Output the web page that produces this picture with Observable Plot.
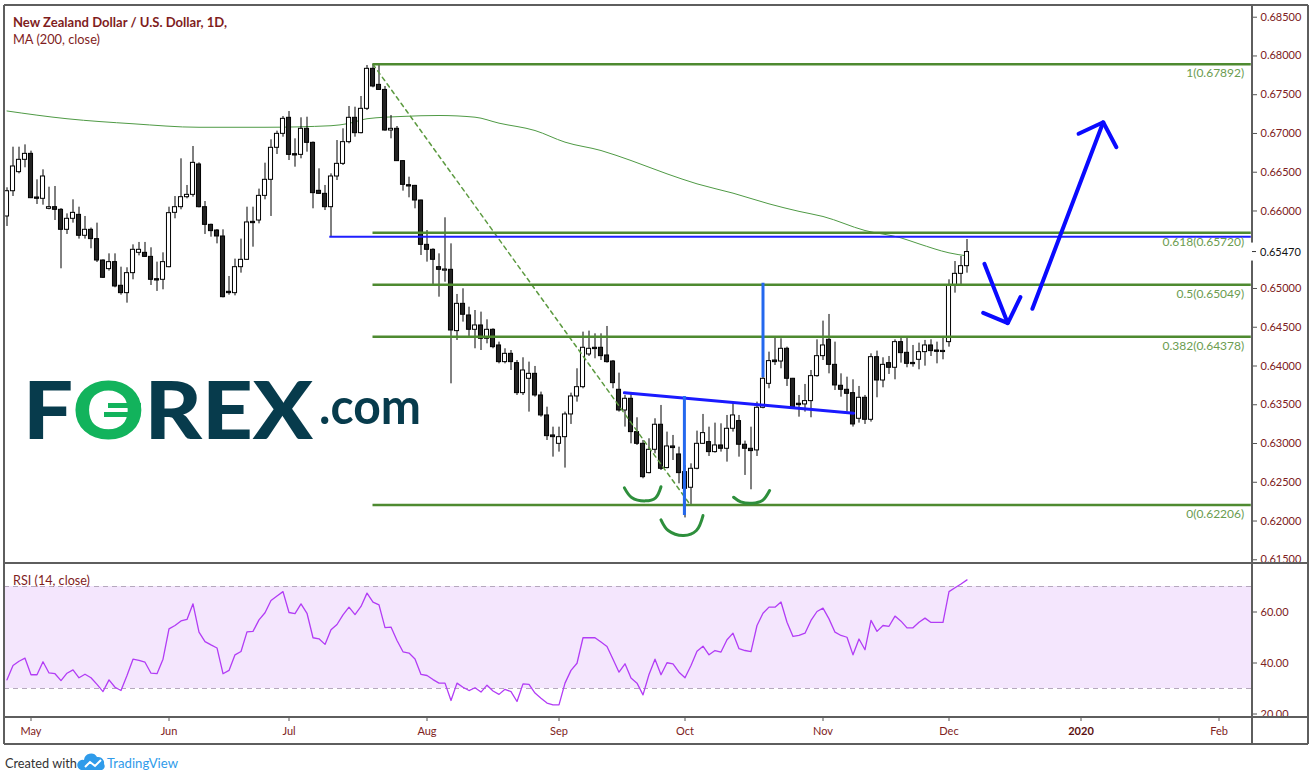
<!DOCTYPE html>
<html><head><meta charset="utf-8">
<script src="https://cdn.jsdelivr.net/npm/d3@7"></script>
<script src="https://cdn.jsdelivr.net/npm/@observablehq/plot@0.6"></script>
<style>
html,body{margin:0;padding:0;background:#fff;}
#wrap{position:relative;width:1315px;height:781px;overflow:hidden;font-family:Lato,"DejaVu Sans",sans-serif;}
#wrap svg{position:absolute;left:0;margin:0;overflow:visible;}
</style></head>
<body><div id="wrap"></div>
<script>
// ---------- DATA (bar index 0 = first weekday bar, 2019-04-25) ----------
const firstBarDate = [2019, 3, 25];
const lastAxisDate = [2020, 1, 14];
const opens = [0.65929,0.66255,0.66501,0.66660,0.66737,0.66174,0.66157,0.66028,0.66049,0.66015,
0.65757,0.65899,0.65950,0.65680,0.65757,0.65637,0.65361,0.65250,0.65340,0.65035,
0.64940,0.65198,0.65460,0.65460,0.65408,0.65120,0.65112,0.65275,0.65976,0.66049,
0.66178,0.66208,0.66600,0.66049,0.65821,0.65748,0.65671,0.64957,0.64940,0.65275,
0.65370,0.65860,0.65877,0.66195,0.66402,0.66815,0.66995,0.67202,0.66733,0.66724,
0.67060,0.66879,0.66260,0.66221,0.66049,0.66445,0.66608,0.66888,0.67202,0.67004,
0.67318,0.67834,0.67627,0.67562,0.67038,0.67060,0.66643,0.66333,0.66324,0.66135,
0.65563,0.65499,0.65275,0.65230,0.65241,0.64450,0.64802,0.64652,0.64467,0.64523,
0.64351,0.64467,0.64265,0.64050,0.64157,0.64037,0.63650,0.63835,0.63899,0.63620,
0.63362,0.63104,0.62996,0.63082,0.63375,0.63607,0.63727,0.64149,0.64235,0.64235,
0.64136,0.64058,0.63693,0.63426,0.63577,0.63147,0.62996,0.62618,0.62919,0.63242,
0.62683,0.62962,0.62859,0.62631,0.62429,0.62674,0.62996,0.63018,0.62889,0.62975,
0.62932,0.63190,0.63289,0.62984,0.62932,0.62911,0.63461,0.63770,0.64071,0.64058,
0.64222,0.63835,0.63513,0.63504,0.63547,0.63869,0.64127,0.64338,0.64015,0.63745,
0.63693,0.63650,0.63319,0.63590,0.63306,0.64114,0.63813,0.64037,0.63977,0.64308,
0.64170,0.64040,0.64080,0.64179,0.64265,0.64200,0.64180,0.64308,0.65039,0.65189,
0.65288];
const highs = [0.66299,0.66823,0.66823,0.66853,0.66772,0.66402,0.66531,0.66307,0.66316,0.66030,
0.65963,0.66144,0.66049,0.65929,0.65780,0.65843,0.65370,0.65447,0.65447,0.65275,
0.65267,0.65563,0.65594,0.65594,0.65525,0.65340,0.65460,0.66049,0.66187,0.66673,
0.66329,0.66832,0.66621,0.66122,0.65830,0.65760,0.65757,0.65155,0.65379,0.65637,
0.66049,0.66049,0.66282,0.66617,0.66918,0.67030,0.67219,0.67283,0.66931,0.67202,
0.67210,0.66890,0.66544,0.66329,0.66479,0.66909,0.67060,0.67348,0.67339,0.67477,
0.67877,0.67892,0.67880,0.67606,0.67232,0.67090,0.66651,0.66436,0.66330,0.66140,
0.65748,0.65512,0.65447,0.65912,0.65576,0.64923,0.64996,0.64759,0.64716,0.64695,
0.64596,0.64480,0.64308,0.64222,0.64200,0.64071,0.64106,0.64050,0.63994,0.63663,
0.63469,0.63211,0.63211,0.63405,0.63650,0.63964,0.64437,0.64450,0.64415,0.64415,
0.64510,0.64071,0.63908,0.63620,0.63633,0.63332,0.63039,0.63061,0.63319,0.63491,
0.63147,0.63104,0.62953,0.62717,0.62738,0.63160,0.63375,0.63211,0.63263,0.63254,
0.63362,0.63534,0.63362,0.63031,0.63211,0.63534,0.63878,0.64179,0.64364,0.64351,
0.64243,0.63840,0.63620,0.63762,0.63942,0.64338,0.64579,0.64665,0.64308,0.63899,
0.63856,0.63822,0.63736,0.63620,0.64157,0.64192,0.64106,0.64123,0.64338,0.64364,
0.64381,0.64265,0.64295,0.64330,0.64338,0.64308,0.64381,0.65112,0.65348,0.65413,
0.65632];
const lows = [0.65800,0.66187,0.66479,0.66557,0.66160,0.66084,0.66075,0.66015,0.65877,0.65254,
0.65697,0.65843,0.65637,0.65637,0.65512,0.65335,0.65130,0.65224,0.65009,0.64914,
0.64811,0.65112,0.65421,0.65400,0.65039,0.64962,0.64983,0.65267,0.65899,0.66015,
0.66157,0.66178,0.66040,0.65697,0.65662,0.65576,0.64879,0.64914,0.64905,0.65198,
0.65361,0.65533,0.65834,0.66144,0.65929,0.66729,0.66952,0.66651,0.66565,0.66673,
0.66759,0.66028,0.66213,0.66006,0.65668,0.66393,0.66587,0.66866,0.66952,0.66995,
0.67296,0.67589,0.67555,0.67030,0.66931,0.66640,0.66256,0.66170,0.66028,0.65426,
0.65340,0.65051,0.64888,0.65081,0.63770,0.64329,0.64566,0.64372,0.64222,0.64200,
0.64286,0.64222,0.64028,0.64028,0.63942,0.63620,0.63620,0.63405,0.63598,0.63340,
0.63039,0.62824,0.62889,0.62683,0.63246,0.63534,0.63706,0.64123,0.64093,0.64071,
0.64037,0.63706,0.63405,0.63212,0.62996,0.62975,0.62545,0.62609,0.62867,0.62652,
0.62674,0.62781,0.62480,0.62040,0.62188,0.62661,0.62988,0.62833,0.62876,0.62889,
0.62760,0.63147,0.62824,0.62588,0.62403,0.62833,0.63448,0.63706,0.64007,0.63964,
0.63736,0.63448,0.63340,0.63405,0.63332,0.63856,0.64071,0.63899,0.63684,0.63598,
0.63405,0.63212,0.63263,0.63246,0.63276,0.63590,0.63719,0.63891,0.63822,0.64037,
0.63977,0.63985,0.63951,0.63998,0.64123,0.64028,0.64080,0.64243,0.64940,0.65030,
0.65198];
const closes = [0.66255,0.66574,0.66660,0.66737,0.66165,0.66157,0.66445,0.66049,0.66015,0.65757,
0.65899,0.65976,0.65680,0.65757,0.65637,0.65361,0.65138,0.65340,0.65026,0.64940,
0.65198,0.65499,0.65499,0.65408,0.65112,0.65103,0.65340,0.65972,0.66049,0.66178,
0.66208,0.66621,0.66049,0.65821,0.65740,0.65671,0.64888,0.64940,0.65275,0.65370,
0.65852,0.65843,0.66195,0.66402,0.66815,0.66995,0.67189,0.66724,0.66716,0.67060,
0.66879,0.66230,0.66221,0.66049,0.66445,0.66608,0.66888,0.67202,0.67004,0.67318,
0.67834,0.67606,0.67562,0.67038,0.67060,0.66643,0.66337,0.66316,0.66135,0.65563,
0.65499,0.65370,0.65241,0.65245,0.64458,0.64802,0.64661,0.64467,0.64523,0.64351,
0.64467,0.64243,0.64050,0.64157,0.64050,0.63650,0.63942,0.63899,0.63620,0.63362,
0.63095,0.63082,0.63082,0.63375,0.63607,0.63727,0.64235,0.64222,0.64218,0.64127,
0.64050,0.63779,0.63426,0.63577,0.63147,0.62996,0.62566,0.62919,0.63242,0.62674,
0.62962,0.62941,0.62618,0.62416,0.62674,0.62996,0.63134,0.62889,0.62975,0.62932,
0.63190,0.63362,0.62984,0.62932,0.62902,0.63461,0.63835,0.64063,0.64050,0.64222,
0.63835,0.63469,0.63495,0.63547,0.63869,0.64127,0.64265,0.64015,0.63749,0.63693,
0.63641,0.63246,0.63590,0.63306,0.64114,0.63813,0.64015,0.63977,0.64308,0.64166,
0.64028,0.64024,0.64179,0.64265,0.64192,0.64183,0.64195,0.65039,0.65189,0.65288,
0.65470];
const rsi14 = [33.4,39.0,40.7,41.9,35.4,35.4,40.5,36.1,35.8,33.1,
36.0,37.3,34.2,35.6,34.2,31.6,28.8,33.4,30.5,29.2,
35.1,41.5,41.0,40.3,36.0,35.8,41.5,53.4,54.7,56.5,
57.1,63.2,52.1,48.4,47.1,45.9,35.8,37.1,43.2,44.5,
52.2,52.4,56.9,59.7,64.5,66.3,68.0,59.8,59.4,63.2,
59.5,49.9,49.5,47.3,53.0,55.1,58.9,61.9,59.0,62.2,
67.4,63.9,62.8,53.9,54.1,48.8,44.4,43.9,41.6,35.5,
35.1,33.5,32.1,32.1,25.3,32.1,30.5,29.2,30.3,28.6,
31.3,29.0,27.7,29.7,28.8,24.9,31.8,31.6,28.2,26.2,
24.3,23.6,23.6,32.1,37.1,39.9,49.9,49.9,49.9,48.2,
46.5,41.5,36.4,39.7,34.1,32.1,27.5,35.5,41.5,35.4,
40.1,39.7,36.4,34.2,39.0,44.6,46.6,43.2,44.9,44.3,
49.1,51.7,45.6,44.9,44.5,54.7,59.5,61.9,61.9,63.9,
56.0,50.4,50.8,51.7,56.7,60.2,61.5,57.3,52.1,50.8,
50.1,43.2,49.4,45.2,56.7,52.4,54.7,54.4,58.4,56.4,
53.8,53.8,56.0,57.6,55.9,55.9,55.9,68.0,69.5,71.0,
72.6];
// 200-day MA read at selected bars
const ma200Idx = [0,10,21,32,43,54,57,60,66,72,78,82,88,93,99,104,110,115,121,127,132,136,143,149,152,157,160];
const ma200Val = [0.6729,0.6719,0.67125,0.6708,0.6708,0.6710,0.6713,0.6719,0.6722,0.67232,0.6721,0.67133,0.67038,0.66888,0.6678,0.66651,0.66479,0.6635,0.6623,0.66092,0.65995,0.65929,0.65748,0.65653,0.65576,0.6546,0.6542];
const priceTicks = [0.615,0.620,0.625,0.630,0.635,0.640,0.645,0.650,0.660,0.665,0.670,0.675,0.680,0.685];
const rsiTicks = [20,40,60];
const rsiBand = [30,70];
const fibRatios = ["1","0.618","0.5","0.382","0"];
const fibValues = [0.67892,0.65720,0.65049,0.64378,0.62206];
const fibStartIdx = 61;
// drawings (bar index, price)
const resistanceLevel = 0.65668, resistanceStartIdx = 53.8;
const diagIdx = [61, 113.9], diagPrice = [0.67892, 0.62206];
const neckIdx = [102.9, 141.1], neckPrice = [0.63654, 0.63391];
const vlineIdx = [112.9, 126], vlineFrom = [0.63606, 0.65068], vlineTo = [0.62071, 0.6385];
const arcGroup = ["L","L","L","L","L","H","H","H","H","H","R","R","R","R","R"];
const arcIdx = [102.9,104.1,106.4,108.1,109.0, 109.0,110.2,112.8,114.9,116.0, 121.1,122.3,124.2,125.9,127.1];
const arcPrice = [0.62428,0.62305,0.62260,0.62300,0.62442, 0.62016,0.61878,0.61814,0.61878,0.62071, 0.62307,0.62248,0.62230,0.62265,0.62394];
const arrowGroup = ["ds","ds","dh","dh","dh","us","us","uh","uh","uh"];
const arrowIdx = [162.9,166.8, 162.7,166.8,168.9, 170.9,182.7, 178.6,182.7,184.9];
const arrowPrice = [0.65318,0.64552, 0.64686,0.64552,0.64888, 0.64738,0.67145, 0.66996,0.67145,0.66823];

// ---------- calendar (weekday bars) ----------
const dates = [];
for (let d = new Date(...firstBarDate); d <= new Date(...lastAxisDate); d.setDate(d.getDate()+1)) {
  const wd = d.getDay(); if (wd > 0 && wd < 6) dates.push(new Date(d));
}
const monthTicks = [];
dates.forEach((d,i) => { if (i > 0 && d.getMonth() !== dates[i-1].getMonth()) monthTicks.push(i); });
const fmtMon = d3.timeFormat("%b");
const tickLabel = i => dates[i].getMonth() === 0 ? String(dates[i].getFullYear()) : fmtMon(dates[i]);

const candles = opens.map((o,i) => ({i, o, h: highs[i], l: lows[i], c: closes[i]}));
const upC = candles.filter(d => d.c >= d.o), dnC = candles.filter(d => d.c < d.o);
const X_DOMAIN = [-0.4167, 207.583];
const AXIS_COLOR = "#7d2121";
const FONT = "Lato, 'DejaVu Sans', sans-serif";
const bw = 0.34;

const main = Plot.plot({
  width: 1315, height: 563,
  marginLeft: 4, marginRight: 63, marginTop: 5, marginBottom: 0,
  x: {type: "linear", domain: X_DOMAIN, axis: null},
  y: {domain: [0.61452, 0.68651], axis: null},
  style: {fontFamily: FONT, background: "#fff", overflow: "visible"},
  marks: [
    Plot.axisY({anchor: "right", ticks: priceTicks, tickFormat: d => d.toFixed(5), tickSize: 4, tickPadding: 4, fontSize: 11, stroke: "#555", fill: AXIS_COLOR}),
    Plot.line(ma200Idx.map((x,k) => ({x, y: ma200Val[k]})), {x: "x", y: "y", stroke: "#4f9a45", strokeWidth: 1, curve: "monotone-x"}),
    Plot.ruleX(candles, {x: "i", y1: "l", y2: "h", stroke: "#000", strokeWidth: 1}),
    Plot.rect(upC, {x1: d => d.i - bw, x2: d => d.i + bw, y1: "o", y2: "c", fill: "#fff", stroke: "#000", strokeWidth: 1}),
    Plot.rect(dnC, {x1: d => d.i - bw, x2: d => d.i + bw, y1: "o", y2: "c", fill: "#222", stroke: "#000", strokeWidth: 1}),
    Plot.line(diagIdx.map((x,k) => ({x, y: diagPrice[k]})), {x: "x", y: "y", stroke: "#5c9a40", strokeWidth: 1.5, strokeDasharray: "4,4"}),
    Plot.ruleY(fibValues, {y: d => d, x1: fibStartIdx, x2: X_DOMAIN[1] - 0.2, stroke: "#4e8a30", strokeWidth: 2.5}),
    Plot.ruleY([resistanceLevel], {y: d => d, x1: resistanceStartIdx, x2: X_DOMAIN[1] - 0.2, stroke: "#1f1fff", strokeWidth: 2}),
    Plot.text(fibValues, {x: 206.2, y: d => d, text: (d,i) => `${fibRatios[i]}(${d.toFixed(5)})`, dy: 9, textAnchor: "end", fill: "#6b9c50", fontSize: 12}),
    Plot.line(neckIdx.map((x,k) => ({x, y: neckPrice[k]})), {x: "x", y: "y", stroke: "#1a1aff", strokeWidth: 3}),
    Plot.ruleX(vlineIdx.map((x,k) => ({x, a: vlineFrom[k], b: vlineTo[k]})), {x: "x", y1: "a", y2: "b", stroke: "#2468ee", strokeWidth: 3}),
    Plot.line(arcIdx.map((x,k) => ({x, y: arcPrice[k], g: arcGroup[k]})), {x: "x", y: "y", z: "g", stroke: "#2e8f3c", strokeWidth: 3, curve: "catmull-rom"}),
    Plot.line(arrowIdx.map((x,k) => ({x, y: arrowPrice[k], g: arrowGroup[k]})), {x: "x", y: "y", z: "g", stroke: "#0a0aff", strokeWidth: 4, strokeLinejoin: "miter"})
  ]
});
main.style.top = "0px";

const rsiPlot = Plot.plot({
  width: 1315, height: 218,
  marginLeft: 4, marginRight: 63, marginTop: 0, marginBottom: 64,
  x: {type: "linear", domain: X_DOMAIN, axis: null},
  y: {domain: [18.63, 79.02], axis: null},
  style: {fontFamily: FONT, background: "transparent", overflow: "visible"},
  marks: [
    Plot.rect([0], {x1: X_DOMAIN[0], x2: X_DOMAIN[1], y1: rsiBand[0], y2: rsiBand[1], fill: "#f4e6fd"}),
    Plot.ruleY(rsiBand, {stroke: "#b5a8bd", strokeDasharray: "5,4", strokeWidth: 1}),
    Plot.line(rsi14, {x: (d,i) => i, y: d => d, stroke: "#b23cf5", strokeWidth: 1.3}),
    Plot.axisY({anchor: "right", ticks: rsiTicks, tickFormat: d => d.toFixed(2), tickSize: 4, tickPadding: 4, fontSize: 11, stroke: "#555", fill: AXIS_COLOR}),
    Plot.axisX({anchor: "bottom", ticks: monthTicks, tickFormat: tickLabel, tickSize: 4, tickPadding: 6, fontSize: 11, stroke: "#555", fill: AXIS_COLOR})
  ]
});
rsiPlot.style.top = "563px";
rsiPlot.querySelectorAll("text").forEach(t => { if (t.textContent === "2020") { t.setAttribute("font-weight", "bold"); t.setAttribute("fill", "#5a1010"); } });

const wrap = document.getElementById("wrap");
wrap.appendChild(main);
wrap.appendChild(rsiPlot);

// ---------- overlay: frame, titles, labels, logos ----------
const ov = d3.create("svg").attr("width", 1315).attr("height", 781).style("top", "0px").style("pointer-events", "none");
const fr = ov.append("g").attr("stroke", "#5e5e5e").attr("stroke-width", 1.2).attr("shape-rendering", "crispEdges");
[[4,5,1308,5],[4,5,4,744],[1308,5,1308,744],[1252,5,1252,744],[4,563,1308,563],[4,717,1308,717],[4,744,1308,744]]
  .forEach(([x1,y1,x2,y2]) => fr.append("line").attr("x1",x1).attr("y1",y1).attr("x2",x2).attr("y2",y2));

// last price label
const lastClose = closes[closes.length-1];
const ly = main.scale("y").apply(lastClose);
ov.append("rect").attr("x", 1250).attr("y", ly-9).attr("width", 5).attr("height", 18).attr("fill", "#fff");
ov.append("line").attr("x1", 1252).attr("x2", 1256).attr("y1", ly).attr("y2", ly).attr("stroke", "#333");
ov.append("text").attr("x", 1260).attr("y", ly + 4).attr("font-size", 11).attr("fill", "#111").attr("font-family", FONT).text(lastClose.toFixed(5));

const title = ov.append("g").attr("font-family", FONT).attr("fill", "#7f1d1d");
title.append("text").attr("x", 13).attr("y", 27).attr("font-size", 14).attr("font-weight", "bold")
  .attr("textLength", 214).attr("lengthAdjust", "spacingAndGlyphs").text("New Zealand Dollar / U.S. Dollar, 1D,");
title.append("text").attr("x", 13).attr("y", 44).attr("font-size", 14)
  .attr("textLength", 87).attr("lengthAdjust", "spacingAndGlyphs").text("MA (200, close)");
title.append("text").attr("x", 13).attr("y", 585).attr("font-size", 13)
  .attr("textLength", 77).attr("lengthAdjust", "spacingAndGlyphs").text("RSI (14, close)");

// FOREX.com logo
const lg = ov.append("g").attr("font-family", FONT).attr("font-weight", 900);
const fx = lg.append("text").attr("x", 23).attr("y", 439).attr("font-size", 80).attr("fill", "#073b4c")
  .attr("textLength", 290).attr("lengthAdjust", "spacingAndGlyphs");
fx.append("tspan").text("F");
fx.append("tspan").attr("fill", "#12b35c").text("O");
fx.append("tspan").text("REX");
lg.append("rect").attr("x", 108).attr("y", 403).attr("width", 33).attr("height", 5).attr("fill", "#12b35c");
lg.append("rect").attr("x", 104).attr("y", 412).attr("width", 33).attr("height", 5).attr("fill", "#12b35c");
lg.append("text").attr("x", 319).attr("y", 424).attr("font-size", 50).attr("font-weight", "bold").attr("fill", "#073b4c")
  .attr("textLength", 102).attr("lengthAdjust", "spacingAndGlyphs").text(".com");

// Created with TradingView
const cw = ov.append("g").attr("font-family", FONT);
cw.append("text").attr("x", 5).attr("y", 768).attr("font-size", 14).attr("fill", "#333")
  .attr("textLength", 72).attr("lengthAdjust", "spacingAndGlyphs").text("Created with");
cw.append("path").attr("d", "M81,770 a5,5 0 0 1 3,-10 a7,7 0 0 1 13,-3 a6,6 0 0 1 7,7 a4,4 0 0 1 -2,6 z").attr("fill", "#2f9bea");
cw.append("path").attr("d", "M85,767 L90,762 L95,766 L101,760").attr("fill", "none").attr("stroke", "#fff").attr("stroke-width", 2);
cw.append("text").attr("x", 107).attr("y", 768).attr("font-size", 14).attr("fill", "#2f9bea")
  .attr("textLength", 71).attr("lengthAdjust", "spacingAndGlyphs").text("TradingView");

wrap.appendChild(ov.node());
</script>
</body></html>
